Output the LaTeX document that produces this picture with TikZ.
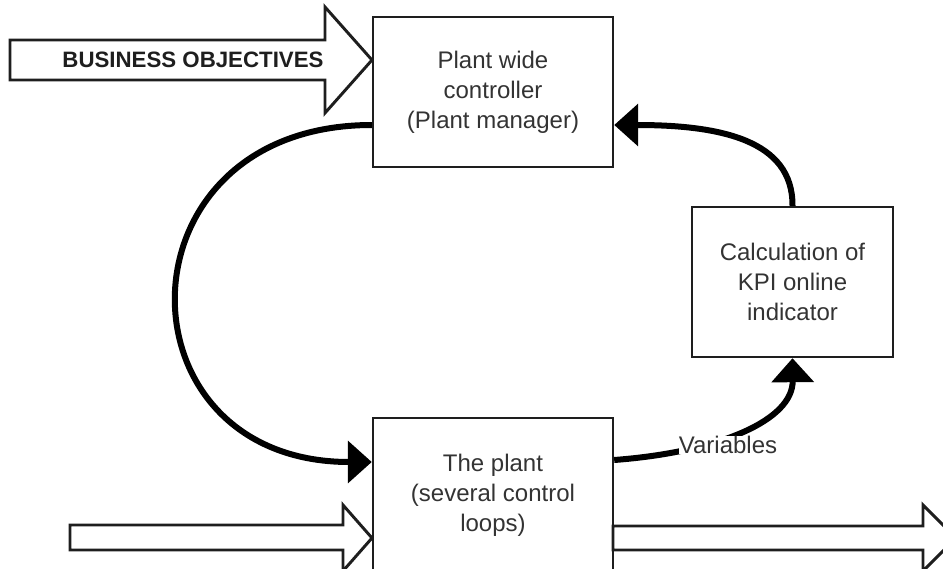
\documentclass[tikz,border=0pt]{standalone}
\usepackage{fontspec}
\setmainfont{Liberation Sans}
\usetikzlibrary{arrows.meta,calc}
\definecolor{ink}{HTML}{1E1E1E}
\definecolor{txt}{HTML}{333333}
\begin{document}
\begin{tikzpicture}[x=0.75pt,y=-0.75pt,
  box/.style={draw=ink,line width=1.8pt,text=txt,align=center,
    font=\fontsize{18}{22.5}\selectfont,inner sep=0pt},
  flow/.style={draw=black,line width=4.5pt,
    -{Triangle[length=18pt,width=31pt]}},
  blockarrow/.style={draw=ink,line width=2.2pt,fill=white,line join=miter}]
\useasboundingbox (0,0) rectangle (943,568);

% wide input/output arrows
\draw[blockarrow] (10,40) -- (325,40) -- (325,7) -- (372,60) -- (325,113)
  -- (325,80) -- (10,80) -- cycle;
\draw[blockarrow] (70,525) -- (343,525) -- (343,505) -- (372,538) -- (343,571)
  -- (343,550) -- (70,550) -- cycle;
\draw[blockarrow] (613,526) -- (923,526) -- (923,505) -- (956,538) -- (923,571)
  -- (923,550) -- (613,550) -- cycle;
\node[text=ink,font=\fontsize{16.7}{20}\selectfont\bfseries] (objectives) at (193,60)
  {BUSINESS OBJECTIVES};

% blocks
\node[box,minimum width=180pt,minimum height=112.5pt] (ctrl) at (493,92)
  {Plant wide\\controller\\(Plant manager)};
\node[box,minimum width=150.75pt,minimum height=112.5pt] (kpi) at (792.5,282)
  {Calculation of\\KPI online\\indicator};
\node[box,minimum width=180pt,minimum height=115.5pt] (plant) at (493,495)
  {The plant\\(several control\\loops)};

% feedback loop
\draw[flow] ([yshift=-24.75pt]ctrl.west) .. controls (113,125) and (113,462)
  .. ([yshift=24.75pt]plant.west);
\draw[flow] (kpi.north) .. controls (793,140) and (720,125)
  .. ([yshift=-24.75pt]ctrl.east);
\draw[flow] ([yshift=26.25pt]plant.east) .. controls (720,452) and (793,420)
  .. (kpi.south);
\node[fill=white,inner sep=0pt,text=txt,font=\fontsize{18}{22.5}\selectfont]
  (vars) at (728,445) {Variables};
\end{tikzpicture}
\end{document}
